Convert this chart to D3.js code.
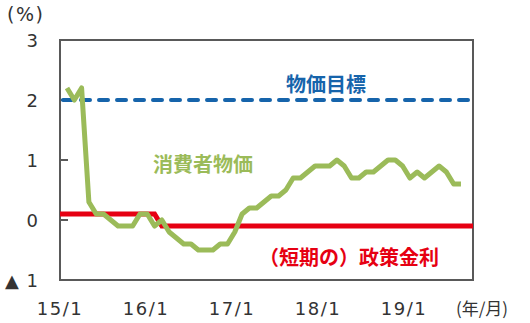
<!DOCTYPE html>
<html>
<head>
<meta charset="utf-8">
<script src="https://cdn.jsdelivr.net/npm/d3@7"></script>
<style>
  body { margin: 0; background: #fff; }
</style>
</head>
<body>
<div id="chart"></div>
<script>
// monthly data, 15/1 .. 19/7
const cpi = [2.2, 2.0, 2.2, 0.3, 0.1, 0.1, 0.0, -0.1, -0.1, -0.1, 0.1, 0.1,
    -0.1, 0.0, -0.2, -0.3, -0.4, -0.4, -0.5, -0.5, -0.5, -0.4, -0.4, -0.2,
    0.1, 0.2, 0.2, 0.3, 0.4, 0.4, 0.5, 0.7, 0.7, 0.8, 0.9, 0.9,
    0.9, 1.0, 0.9, 0.7, 0.7, 0.8, 0.8, 0.9, 1.0, 1.0, 0.9, 0.7,
    0.8, 0.7, 0.8, 0.9, 0.8, 0.6, 0.6];
const policyRate = [0.1, 0.1, 0.1, 0.1, 0.1, 0.1, 0.1, 0.1, 0.1, 0.1, 0.1, 0.1,
    0.1, -0.1, -0.1, -0.1, -0.1, -0.1, -0.1, -0.1, -0.1, -0.1, -0.1, -0.1,
    -0.1, -0.1, -0.1, -0.1, -0.1, -0.1, -0.1, -0.1, -0.1, -0.1, -0.1, -0.1,
    -0.1, -0.1, -0.1, -0.1, -0.1, -0.1, -0.1, -0.1, -0.1, -0.1, -0.1, -0.1,
    -0.1, -0.1, -0.1, -0.1, -0.1, -0.1, -0.1];
const priceTarget = 2.0;
const xTickLabels = ['15/1', '16/1', '17/1', '18/1', '19/1'];
const yTicks = [3, 2, 1, 0, -1];
const seriesNames = {cpi: '消費者物価', target: '物価目標', policy: '（短期の）政策金利'};

const width = 530, height = 323;
const margin = {top: 40, right: 57, bottom: 43, left: 60};

const svg = d3.select('#chart')
    .append('svg')
    .attr('width', width)
    .attr('height', height)
    .style('background-color', '#fff');

// month index scale (index 0 = 15/1)
const x = d3.scaleLinear()
    .domain([-0.96, 55.65])
    .range([margin.left, width - margin.right]);
const y = d3.scaleLinear()
    .domain([-1, 3])
    .range([height - margin.bottom, margin.top]);
// year labels sit a bit left of the data months in the original
const xLab = d3.scalePoint()
    .domain(xTickLabels)
    .range([60, 404]);

const numFont = "'DejaVu Sans', Verdana, sans-serif";
const cjkFont = "'Noto Sans CJK JP', sans-serif";

// plot frame
svg.append('rect')
    .attr('x', x.range()[0])
    .attr('y', y(3))
    .attr('width', x.range()[1] - x.range()[0])
    .attr('height', y(-1) - y(3))
    .attr('fill', 'none')
    .attr('stroke', '#595959')
    .attr('stroke-width', 2);

// inward y ticks
svg.append('g')
    .selectAll('line')
    .data(yTicks.slice(1, -1))
    .enter()
    .append('line')
        .attr('x1', x.range()[0])
        .attr('x2', x.range()[0] + 8)
        .attr('y1', d => y(d))
        .attr('y2', d => y(d))
        .attr('stroke', '#595959')
        .attr('stroke-width', 2);

// y labels
svg.append('g')
    .selectAll('text')
    .data(yTicks)
    .enter()
    .append('text')
        .attr('x', 39)
        .attr('y', d => y(d))
        .attr('text-anchor', 'end')
        .attr('dominant-baseline', 'central')
        .attr('font-family', numFont)
        .style('font-size', '18px')
        .style('letter-spacing', '1px')
        .attr('fill', '#333')
        .text(d => d < 0 ? '▲ ' + Math.abs(d) : d);

svg.append('text')
    .attr('x', 7)
    .attr('y', 21)
    .attr('font-family', numFont)
    .style('font-size', '19px')
    .style('letter-spacing', '1.5px')
    .attr('fill', '#333')
    .text('(%)');

// x labels
svg.append('g')
    .selectAll('text')
    .data(xTickLabels)
    .enter()
    .append('text')
        .attr('x', d => xLab(d))
        .attr('y', 315)
        .attr('text-anchor', 'middle')
        .attr('font-family', numFont)
        .style('font-size', '18px')
        .style('letter-spacing', '1.5px')
        .attr('fill', '#333')
        .text(d => d);

svg.append('text')
    .attr('x', 482)
    .attr('y', 315)
    .attr('text-anchor', 'middle')
    .attr('font-family', cjkFont)
    .style('font-size', '17px')
    .attr('fill', '#333')
    .text('(年/月)');

// price target (dashed)
svg.append('line')
    .attr('x1', x.range()[0] + 3)
    .attr('x2', x.range()[1])
    .attr('y1', y(priceTarget))
    .attr('y2', y(priceTarget))
    .attr('stroke', '#1664AB')
    .attr('stroke-width', 4)
    .attr('stroke-linecap', 'round')
    .style('stroke-dasharray', '9,9');

// policy rate, stretched to both edges of the frame
const policyPts = policyRate.map((v, i) => [x(i), y(v)]);
policyPts.unshift([x.range()[0], y(policyRate[0])]);
policyPts.push([x.range()[1], y(policyRate[policyRate.length - 1])]);
svg.append('path')
    .attr('d', d3.line()(policyPts))
    .attr('fill', 'none')
    .attr('stroke', '#E60012')
    .attr('stroke-width', 5);

// cpi
svg.append('path')
    .datum(cpi)
    .attr('d', d3.line()
        .x((d, i) => x(i))
        .y(d => y(d)))
    .attr('fill', 'none')
    .attr('stroke', '#9BBB59')
    .attr('stroke-width', 5)
    .attr('stroke-linejoin', 'round');

// series labels
const labels = [
    {text: seriesNames.target, color: '#1664AB', cx: 326, cy: 83},
    {text: seriesNames.cpi, color: '#9BBB59', cx: 203, cy: 163},
    {text: seriesNames.policy, color: '#E60012', cx: 349, cy: 256}
];
svg.append('g')
    .selectAll('text')
    .data(labels)
    .enter()
    .append('text')
        .attr('x', d => d.cx)
        .attr('y', d => d.cy)
        .attr('text-anchor', 'middle')
        .attr('dominant-baseline', 'central')
        .attr('font-family', cjkFont)
        .attr('font-weight', 'bold')
        .style('font-size', '20px')
        .attr('fill', d => d.color)
        .text(d => d.text);
</script>
</body>
</html>
